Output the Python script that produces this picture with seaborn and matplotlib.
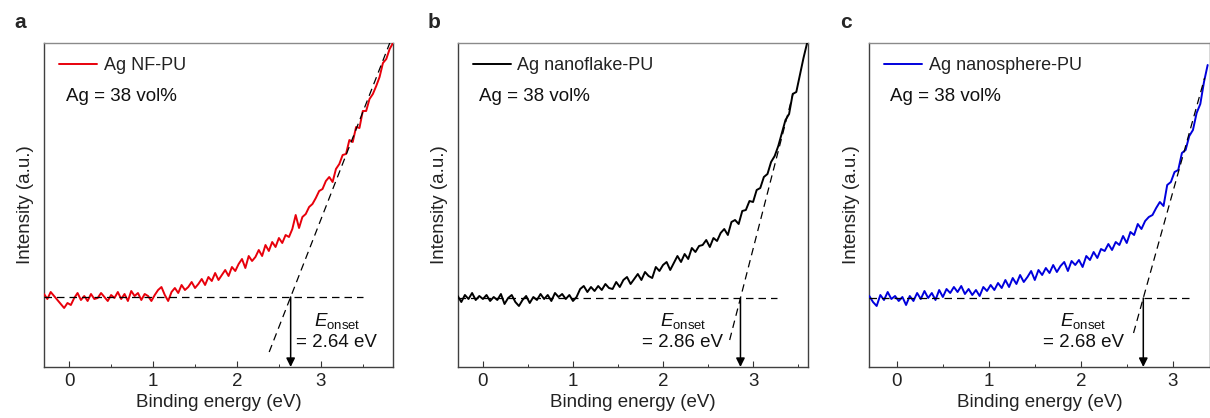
import numpy as np
import pandas as pd
import matplotlib
matplotlib.use("Agg")
import matplotlib.pyplot as plt
import matplotlib.transforms as mtransforms
import seaborn as sns

# ---------------- data (intensity in arbitrary units, baseline = 0) ----------------
panel_letters = ["a", "b", "c"]
series_names = ["Ag NF-PU", "Ag nanoflake-PU", "Ag nanosphere-PU"]
series_colors = ["#e8000b", "#000000", "#0000dd"]
onset_values = [2.64, 2.86, 2.68]
tangent_slopes = [215, 350, 330]
tangent_y_range = [(-55, 254), (-42, 205), (-35, 220)]
baseline_end = [3.50, 3.27, 3.18]
xlims = [(-0.30, 3.86), (-0.28, 3.61), (-0.30, 3.40)]
ylims = [(-70, 254), (-69, 255), (-69, 255)]
label_x = [3.19, 2.22, 2.03]
energy_start = [-0.30, -0.28, -0.30]
energy_step = 0.04

int_a = [3, -2, 5, 1, -3, -7, -11, -6, -8, -1,
         4, -3, 1, -4, 3, -2, -1, 4, 0, -4,
         2, -1, 5, -2, 3, -4, 6, 1, 4, -3,
         3, 1, -4, 2, 7, 10, 2, -4, 5, 9,
         4, 12, 7, 10, 15, 9, 13, 18, 12, 20,
         16, 24, 17, 22, 27, 21, 30, 26, 33, 38,
         29, 41, 36, 40, 47, 41, 52, 46, 55, 50,
         59, 54, 62, 60, 68, 82, 69, 80, 83, 90,
         93, 99, 106, 108, 116, 120, 115, 128, 133, 142,
         143, 157, 155, 170, 169, 186, 186, 198, 203, 211,
         220, 234, 238, 248, 254]
int_b = [2, -4, 3, -1, 5, -2, 2, -1, 3, -3,
         1, -2, 4, -6, 0, 3, -4, -8, -2, 2,
         -5, 1, -2, 4, -1, 3, -3, 5, 1, 4,
         -1, 3, -3, 1, 9, 12, 6, 11, 7, 12,
         8, 14, 10, 9, 16, 11, 18, 21, 14, 19,
         24, 18, 26, 22, 20, 31, 27, 33, 36, 28,
         35, 42, 36, 44, 39, 50, 46, 52, 53, 58,
         51, 60, 57, 65, 69, 63, 76, 78, 74, 87,
         88, 97, 96, 108, 110, 121, 124, 136, 142, 152,
         165, 178, 184, 204, 206, 223, 240, 255]
int_c = [2, -4, -8, 3, -2, 6, -1, 2, -3, 1,
         -7, 2, -3, 5, -1, 7, 0, 5, -2, 8,
         1, 9, 5, 11, 6, 12, 4, 9, 3, 8,
         2, 11, 7, 13, 8, 15, 10, 18, 11, 20,
         14, 23, 16, 21, 27, 18, 28, 23, 30, 25,
         33, 26, 32, 36, 27, 37, 33, 38, 31, 42,
         38, 46, 40, 49, 47, 54, 48, 56, 53, 62,
         55, 66, 63, 74, 69, 77, 81, 83, 90, 96,
         92, 113, 116, 126, 128, 145, 148, 162, 168, 185,
         194, 216, 233]
intensities = [int_a, int_b, int_c]

# ---------------- style ----------------
sns.set_style("ticks")
plt.rcParams["font.family"] = ["Liberation Sans", "DejaVu Sans"]
plt.rcParams["mathtext.fontset"] = "custom"
plt.rcParams["mathtext.rm"] = "Liberation Sans"
plt.rcParams["mathtext.it"] = "Liberation Sans:italic"
plt.rcParams["mathtext.bf"] = "Liberation Sans:bold"
FS = 13.5

fig = plt.figure(figsize=(12.10, 4.18), dpi=100)
W, H = 1210.0, 418.0
axes_px = [(44, 393), (457.7, 808), (869.3, 1209.5)]
top_px, bot_px = 43, 367
letter_px = [14, 428, 840]

for k in range(3):
    l, r = axes_px[k]
    ax = fig.add_axes([l / W, 1 - bot_px / H, (r - l) / W, (bot_px - top_px) / H])
    y = intensities[k]
    x = energy_start[k] + energy_step * np.arange(len(y))
    df = pd.DataFrame({"Binding energy (eV)": x, "Intensity": y})
    sns.lineplot(data=df, x="Binding energy (eV)", y="Intensity", ax=ax,
                 color=series_colors[k], lw=1.4, label=series_names[k], zorder=3)

    E = onset_values[k]
    # baseline
    ax.plot([xlims[k][0], baseline_end[k]], [0, 0], color="black", lw=0.9,
            dashes=(6, 4), zorder=4)
    # tangent
    y0, y1 = tangent_y_range[k]
    s = tangent_slopes[k]
    ax.plot([E + y0 / s, E + y1 / s], [y0, y1], color="black", lw=0.9,
            dashes=(6, 4), zorder=4)
    # arrow
    ax.annotate("", xy=(E, ylims[k][0]), xytext=(E, 0),
                arrowprops=dict(arrowstyle="-|>", color="black", lw=1.1,
                                mutation_scale=13, shrinkA=0, shrinkB=0), zorder=5)
    trans = mtransforms.blended_transform_factory(ax.transData, ax.transAxes)
    ax.text(label_x[k], 0.142, r"$E_{\mathrm{onset}}$", transform=trans,
            ha="center", va="center", fontsize=FS, color="#111111")
    ax.text(label_x[k], 0.077, f"= {E:.2f} eV", transform=trans,
            ha="center", va="center", fontsize=FS, color="#111111")
    ax.text(0.062, 0.834, "Ag = 38 vol%", transform=ax.transAxes,
            ha="left", va="center", fontsize=FS, color="#111111")

    ax.set_xticks([0, 1, 2, 3])
    ax.set_xticks([0.5 * i for i in range(8)], minor=True)
    ax.set_xticklabels(["0", "1", "2", "3"])
    ax.set_yticks([])
    ax.set_xlim(*xlims[k])
    ax.set_ylim(*ylims[k])
    ax.tick_params(axis="x", which="major", direction="in", length=4.5, width=0.8,
                   labelsize=FS, pad=4, colors="#333333", labelcolor="#222222")
    ax.tick_params(axis="x", which="minor", direction="in", length=2.5, width=0.7,
                   colors="#333333")
    ax.set_xlabel("Binding energy (eV)", fontsize=FS, labelpad=3, color="#222222")
    ax.set_ylabel("Intensity (a.u.)", fontsize=FS, labelpad=7, color="#222222")
    for side in ["left", "bottom", "right"]:
        ax.spines[side].set_color("#404040")
        ax.spines[side].set_linewidth(1.0)
    ax.spines["top"].set_color("#8a8a8a")
    ax.spines["top"].set_linewidth(1.0)

    leg = ax.legend(loc="upper left", bbox_to_anchor=(0.044, 0.957), frameon=False,
                    fontsize=FS - 0.5, handlelength=2.1, handletextpad=0.35,
                    borderpad=0, borderaxespad=0)
    for t in leg.get_texts():
        t.set_color("#222222")

    fig.text(letter_px[k] / W, 1 - 23 / H, panel_letters[k], fontsize=15,
             fontweight="bold", ha="left", va="center")

fig.savefig("out.png", dpi=100)
